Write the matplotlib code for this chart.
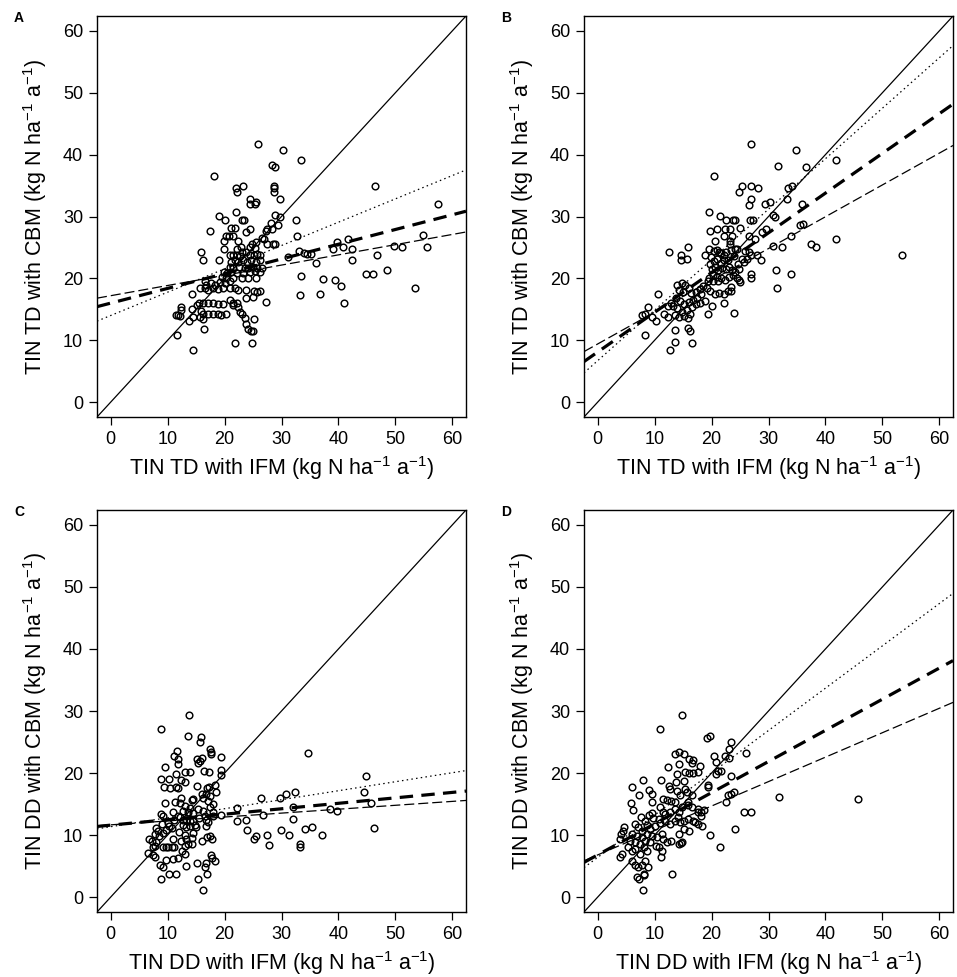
import matplotlib
matplotlib.use("Agg")
import matplotlib.pyplot as plt

plt.rcParams['font.family'] = ['Liberation Sans', 'DejaVu Sans']
plt.rcParams['mathtext.fontset'] = 'custom'
plt.rcParams['mathtext.rm'] = 'Liberation Sans'
plt.rcParams['mathtext.it'] = 'Liberation Sans:italic'

# ---------------- data ----------------
panel_letters = ["A", "B", "C", "D"]
x_labels = ["TIN TD with IFM", "TIN TD with IFM", "TIN DD with IFM", "TIN DD with IFM"]
y_labels = ["TIN TD with CBM", "TIN TD with CBM", "TIN DD with CBM", "TIN DD with CBM"]
ticks = [0, 10, 20, 30, 40, 50, 60]

# regression lines: (intercept, slope) for dotted, thick dashed, thin long-dashed
lines_a = [(14.0, 0.377), (16.0, 0.238), (17.2, 0.165)]
lines_b = [(6.7, 0.816), (8.1, 0.642), (9.4, 0.514)]
lines_c = [(11.35, 0.145), (11.6, 0.088), (11.65, 0.063)]
lines_d = [(6.4, 0.682), (6.8, 0.502), (6.8, 0.394)]

points_a = [
    (25.9, 41.7), (30.3, 40.8), (33.4, 39.1), (18.2, 36.5), (46.5, 34.9), (22.0, 34.6), (22.2, 33.9),
    (23.3, 34.9), (28.4, 38.3), (28.9, 38.0), (28.6, 35.0), (28.6, 34.6), (28.6, 33.9), (24.5, 32.8),
    (25.6, 32.3), (24.5, 32.0), (25.4, 32.0), (29.7, 32.8), (57.4, 32.1), (22.0, 30.7), (19.0, 30.1),
    (20.1, 29.5), (23.1, 29.5), (23.5, 29.5), (28.9, 30.2), (29.7, 30.0), (32.5, 29.5), (17.5, 27.7),
    (21.1, 28.2), (21.9, 28.2), (24.4, 28.0), (23.7, 27.5), (27.5, 28.0), (28.3, 28.0), (28.1, 29.0),
    (29.3, 28.7), (32.7, 26.9), (26.5, 26.5), (20.3, 26.9), (20.8, 26.9), (21.4, 26.9), (19.9, 26.1),
    (22.4, 26.0), (27.5, 25.6), (28.5, 25.6), (28.9, 25.5), (54.9, 27.0), (55.5, 25.0), (49.8, 25.3),
    (51.1, 25.0), (41.7, 26.3), (39.8, 25.9), (39.0, 24.8), (40.8, 25.1), (42.3, 24.8), (33.0, 24.4),
    (34.0, 24.1), (34.4, 23.9), (35.2, 23.9), (46.8, 23.7), (31.2, 23.5), (42.3, 22.9), (36.0, 22.5),
    (48.6, 21.4), (44.8, 20.7), (46.0, 20.7), (33.5, 20.4), (37.3, 19.9), (39.4, 19.7), (40.4, 18.8),
    (53.5, 18.4), (36.8, 17.5), (33.3, 17.3), (40.9, 16.1), (27.2, 16.2),
    (15.9, 24.2), (16.2, 23.0), (19.0, 23.0), (19.9, 24.7), (22.1, 24.8), (22.8, 25.1), (24.4, 25.1),
    (25.3, 24.9), (20.9, 23.7), (21.5, 23.7), (22.2, 23.7), (22.7, 23.6), (23.1, 24.3), (23.8, 24.2),
    (24.5, 23.8), (25.1, 23.7), (25.7, 24.0), (26.3, 23.7), (21.2, 22.7), (21.8, 22.9), (22.4, 22.7),
    (23.3, 22.9), (24.0, 22.7), (24.7, 22.9), (25.5, 22.7), (26.2, 23.0), (20.9, 21.9), (21.5, 21.6),
    (22.6, 21.9), (23.6, 21.6), (24.1, 21.7), (25.0, 21.8), (25.7, 21.6), (26.5, 21.7), (19.9, 21.1),
    (20.4, 20.9), (21.2, 21.1), (22.1, 20.8), (23.3, 20.9), (24.4, 21.1), (25.3, 21.2), (26.2, 21.1),
    (19.6, 20.2), (20.3, 20.0), (21.5, 20.1), (23.0, 20.0), (24.1, 20.1), (25.5, 20.0), (19.2, 19.4),
    (20.1, 19.3), (20.9, 19.5), (16.5, 19.5), (16.8, 19.0), (17.7, 19.2), (18.3, 18.9), (15.6, 18.4),
    (16.5, 18.4), (17.1, 18.1), (18.0, 18.4), (18.9, 18.3), (19.7, 18.5), (20.9, 18.4), (21.8, 18.5),
    (22.4, 18.1), (23.8, 18.2), (25.1, 17.9), (25.7, 17.8), (26.2, 17.9), (25.0, 17.0), (23.8, 16.8),
    (14.2, 17.4), (15.5, 16.1), (16.3, 16.1), (17.1, 16.0), (18.0, 16.0), (18.9, 15.8), (19.7, 15.8),
    (20.9, 16.5), (21.5, 16.1), (22.2, 16.0), (12.4, 15.4), (12.4, 14.9), (14.2, 15.1), (15.1, 15.7),
    (11.4, 14.1), (11.8, 14.1), (12.1, 14.0), (15.9, 14.7), (16.3, 14.2), (17.1, 14.3), (18.0, 14.2),
    (18.9, 14.3), (19.4, 14.1), (20.2, 14.3), (13.8, 13.1), (14.5, 13.8), (15.6, 13.8), (16.3, 13.5),
    (22.7, 14.6), (23.1, 14.3), (22.4, 15.3), (21.5, 15.7), (23.6, 13.6), (23.8, 12.7), (24.1, 11.8),
    (24.7, 11.5), (16.4, 11.9), (11.6, 10.8), (14.5, 8.4), (21.9, 9.6), (24.9, 9.6), (25.1, 13.4),
    (25.0, 11.5), (26.9, 26.4), (27.3, 27.6), (25.6, 25.9), (24.8, 25.6),
]

points_b = [
    (27.0, 41.7), (34.9, 40.8), (41.8, 39.1), (20.4, 36.5), (31.6, 38.2), (36.5, 38.0), (25.3, 34.9),
    (26.9, 34.9), (28.2, 34.6), (24.8, 33.9), (27.0, 32.9), (26.6, 31.9), (29.4, 32.0), (30.2, 32.3),
    (33.5, 34.6), (34.2, 35.0), (33.2, 32.8), (35.9, 32.1), (19.6, 30.7), (21.5, 30.1), (22.5, 29.5),
    (23.8, 29.4), (24.2, 29.4), (26.7, 29.5), (27.3, 29.5), (30.8, 30.2), (31.2, 29.9), (19.7, 27.7),
    (20.9, 28.0), (22.3, 28.0), (23.2, 28.0), (25.0, 28.1), (29.5, 28.0), (28.9, 27.5), (27.6, 26.4),
    (26.6, 26.9), (22.2, 26.9), (23.6, 26.9), (20.6, 26.1), (23.2, 26.0), (23.2, 25.6), (53.5, 23.7),
    (41.9, 26.3), (37.5, 25.6), (38.4, 25.0), (34.0, 26.9), (35.5, 28.7), (36.1, 28.8), (30.8, 25.3),
    (32.4, 25.0), (12.6, 24.2), (15.8, 25.1), (14.7, 23.8), (15.7, 23.2), (14.7, 23.0), (18.9, 23.8),
    (19.6, 24.8), (20.4, 24.5), (21.3, 24.3), (22.2, 23.7), (24.1, 24.8), (24.5, 24.7), (25.9, 24.5),
    (26.6, 24.3), (27.0, 23.7), (27.9, 23.8), (28.7, 22.9), (26.3, 23.2), (31.3, 21.4), (34.0, 20.7),
    (26.9, 20.7), (26.9, 20.0), (31.5, 18.4), (24.9, 19.8), (25.0, 19.4), (23.5, 17.9), (22.2, 16.1),
    (24.0, 14.4), (19.3, 14.2), (20.0, 15.6), (10.6, 17.4), (7.8, 14.1), (8.3, 14.3), (8.8, 15.4),
    (9.5, 13.8), (10.3, 13.1), (11.7, 14.3), (12.4, 13.8), (8.3, 10.8), (12.7, 8.4), (13.6, 9.7),
    (16.5, 9.6), (13.6, 11.7), (15.8, 12.0), (16.3, 11.5),
    (14.0, 19.0), (14.8, 19.3), (15.3, 19.0), (16.0, 18.5), (14.3, 18.2), (15.0, 17.8), (16.4, 17.6),
    (17.2, 17.8), (17.9, 18.3), (18.5, 18.8), (19.3, 19.5), (18.2, 17.5), (17.5, 16.9), (16.8, 16.5),
    (16.0, 16.2), (15.2, 15.8), (14.5, 16.3), (13.7, 16.8), (13.2, 15.5), (14.0, 15.2), (14.8, 14.6),
    (15.6, 14.9), (16.5, 15.3), (17.2, 15.8), (18.0, 16.1), (18.8, 16.3), (13.6, 14.1), (14.3, 13.8),
    (15.1, 13.9), (15.9, 13.6), (16.3, 14.3), (12.8, 16.0), (12.3, 15.6),
    (19.8, 22.3), (20.4, 22.8), (21.0, 23.1), (21.6, 22.5), (22.2, 22.9), (22.8, 23.0), (20.0, 21.5),
    (20.6, 21.8), (21.2, 21.3), (21.9, 21.7), (22.5, 21.5), (23.1, 21.9), (23.6, 21.3), (24.2, 21.0),
    (24.8, 21.5), (20.2, 20.6), (20.9, 20.3), (21.6, 20.1), (22.3, 19.8), (23.0, 20.2), (23.7, 20.6),
    (24.4, 20.0), (19.5, 20.0), (20.3, 19.5), (21.1, 19.6), (19.2, 18.5), (19.8, 18.0), (20.6, 17.5),
    (21.3, 17.6), (22.1, 17.4), (22.8, 18.0), (23.5, 18.6), (20.9, 24.6), (21.6, 24.1), (22.6, 24.3),
    (23.4, 24.6), (24.0, 23.6), (25.3, 23.2), (25.7, 22.6), (24.7, 22.3), (19.9, 23.4),
]

points_c = [
    (8.8, 27.1), (13.8, 29.4), (13.5, 26.0), (15.9, 25.8), (15.6, 25.0), (17.5, 23.9), (17.6, 23.4),
    (17.6, 23.0), (19.4, 22.6), (34.7, 23.2), (11.7, 23.5), (11.1, 22.8), (11.8, 22.2), (11.9, 21.5),
    (15.1, 22.3), (15.6, 22.0), (16.0, 22.5), (15.4, 21.6), (9.5, 20.9), (13.9, 20.2), (13.0, 20.1),
    (16.4, 20.3), (17.2, 20.1), (19.3, 20.5), (19.4, 19.7), (8.8, 19.0), (10.2, 19.0), (11.5, 19.8),
    (12.4, 18.8), (13.1, 18.6), (9.4, 17.8), (10.4, 17.6), (11.5, 17.8), (11.8, 17.6), (15.1, 17.9),
    (18.3, 18.1), (16.9, 17.6), (17.3, 17.8), (9.6, 15.1), (11.3, 15.3), (12.1, 15.1), (12.4, 15.9),
    (14.2, 15.6), (14.5, 15.8), (16.0, 16.6), (16.3, 16.0), (16.8, 16.7), (17.1, 15.5), (18.0, 15.0),
    (17.4, 14.5), (15.3, 14.2), (16.3, 13.9), (12.7, 13.9), (13.6, 13.7), (14.5, 13.5), (11.0, 13.7),
    (11.8, 13.1), (8.8, 13.4), (9.2, 13.1), (12.7, 12.4), (13.3, 12.4), (13.9, 12.3), (14.5, 12.2),
    (12.1, 12.9), (11.2, 12.5), (10.3, 11.4), (10.7, 11.1), (12.7, 11.7), (13.3, 11.3), (14.0, 11.4),
    (14.8, 11.6), (16.8, 11.4), (7.9, 11.2), (8.3, 10.7), (9.2, 10.4), (9.8, 10.8), (7.7, 10.2),
    (8.5, 9.8), (6.7, 9.4), (7.3, 9.1), (11.0, 9.4), (10.7, 8.1), (10.1, 8.0), (11.2, 8.1),
    (12.4, 9.1), (13.3, 9.4), (14.2, 9.6), (13.0, 8.3), (13.5, 8.5), (14.2, 8.6), (16.1, 9.1),
    (16.9, 9.7), (17.8, 9.4), (17.5, 9.8), (8.0, 8.9), (7.7, 8.3), (7.4, 8.1), (6.6, 7.1), (7.4, 6.8),
    (7.7, 6.4), (9.2, 8.1), (9.7, 8.1), (12.6, 7.4), (13.0, 7.0), (11.0, 6.2), (11.9, 6.3), (9.8, 6.0),
    (17.6, 6.8), (17.8, 6.3), (18.3, 5.9), (8.7, 5.1), (9.2, 4.9), (13.3, 5.0), (15.1, 5.5),
    (16.8, 5.5), (16.5, 4.9), (10.3, 3.7), (11.5, 3.8), (17.0, 3.7), (8.8, 2.9), (15.3, 2.9),
    (16.3, 1.1), (14.9, 11.3), (16.8, 12.4), (17.1, 12.1), (18.0, 13.0), (18.0, 13.8), (19.4, 13.3),
    (12.0, 10.5), (13.0, 10.0), (14.5, 10.3), (15.5, 12.8), (16.5, 13.0), (17.5, 16.3), (18.5, 17.0),
    (10.0, 12.0), (9.0, 11.8), (13.0, 14.7), (14.0, 14.3),
    (22.1, 14.4), (22.1, 12.2), (23.7, 12.5), (23.9, 10.8), (25.5, 9.8), (25.1, 9.3), (26.4, 15.9),
    (26.8, 13.2), (27.4, 10.0), (27.8, 8.4), (29.8, 16.0), (30.8, 16.6), (29.9, 10.8), (31.3, 10.0),
    (32.0, 14.6), (32.0, 12.6), (32.3, 16.9), (33.2, 8.5), (33.3, 8.0), (34.2, 11.0), (35.4, 11.3),
    (37.1, 10.0), (38.5, 14.2), (39.8, 13.9), (44.5, 16.9), (44.9, 19.6), (45.7, 15.2), (46.3, 11.1),
]

points_d = [
    (14.8, 29.4), (10.9, 27.1), (19.2, 25.7), (19.7, 26.0), (23.4, 25.0), (26.0, 23.3), (23.1, 23.9),
    (22.4, 22.8), (23.1, 22.4), (20.5, 22.7), (20.7, 21.7), (13.5, 23.0), (14.3, 23.4), (15.1, 23.1),
    (14.2, 21.5), (12.3, 20.9), (16.1, 22.3), (16.5, 21.6), (16.8, 22.1), (18.0, 21.2), (13.9, 19.9),
    (15.3, 20.1), (16.1, 20.0), (16.8, 20.0), (17.7, 20.1), (21.2, 20.3), (21.6, 20.3), (20.7, 19.8),
    (23.5, 19.6), (7.9, 18.9), (11.1, 18.9), (15.2, 18.7), (13.8, 18.5), (19.3, 18.1), (19.3, 17.7),
    (12.6, 17.9), (12.7, 17.4), (6.1, 17.7), (9.0, 17.3), (9.5, 16.6), (7.2, 16.5), (14.0, 17.1),
    (14.5, 16.4), (15.4, 17.4), (15.6, 16.9), (16.5, 16.5), (23.5, 16.7), (23.9, 16.9), (22.8, 16.4),
    (22.5, 15.3), (5.8, 15.1), (9.5, 15.3), (11.4, 15.8), (12.2, 15.7), (12.9, 15.5), (13.6, 15.3),
    (15.9, 15.3), (15.8, 14.8), (16.6, 14.5), (17.6, 14.2), (18.2, 13.8), (18.6, 14.1), (6.2, 14.0),
    (9.5, 13.5), (11.0, 14.5), (11.4, 13.8), (11.9, 13.4), (12.7, 13.7), (13.6, 14.2), (14.2, 13.8),
    (14.8, 14.5), (14.1, 12.9), (25.7, 13.8), (27.0, 13.7), (18.2, 13.1), (17.6, 13.7), (7.6, 12.9),
    (8.3, 12.3), (9.0, 13.2), (9.8, 12.8), (10.7, 12.6), (6.6, 11.8), (7.1, 11.3), (7.8, 10.7),
    (8.6, 11.7), (9.2, 11.0), (10.1, 11.4), (11.0, 11.9), (11.9, 12.3), (12.7, 11.8), (13.6, 12.3),
    (14.4, 12.1), (15.2, 12.3), (15.9, 12.6), (16.8, 12.3), (17.7, 11.8), (18.4, 11.5), (17.1, 12.1),
    (4.6, 11.3), (4.4, 10.7), (4.1, 10.1), (4.0, 9.4), (6.0, 10.2), (6.9, 9.9), (7.8, 9.7), (8.6, 10.2),
    (9.5, 9.9), (10.4, 9.7), (11.3, 10.2), (5.7, 9.1), (6.6, 8.9), (7.5, 8.6), (8.3, 9.1), (9.2, 8.9),
    (10.2, 8.3), (11.4, 9.4), (12.1, 8.9), (12.9, 9.1), (14.2, 10.2), (14.7, 8.7), (15.2, 11.0),
    (16.1, 10.7), (14.2, 8.6), (14.8, 8.9), (19.8, 10.0), (24.2, 11.0), (21.4, 8.1), (4.3, 7.0),
    (4.0, 6.4), (5.4, 8.1), (6.1, 7.5), (6.6, 7.8), (7.5, 7.0), (8.1, 8.1), (8.6, 7.5), (10.7, 8.1),
    (11.3, 7.5), (11.2, 6.4), (6.0, 5.9), (6.5, 5.1), (7.1, 4.8), (7.8, 5.1), (8.3, 5.9), (8.8, 4.8),
    (6.9, 3.2), (7.2, 3.0), (8.1, 3.8), (8.2, 3.6), (13.0, 3.8), (7.9, 1.1), (31.9, 16.2), (45.7, 15.8),
]

panels = [
    (points_a, lines_a),
    (points_b, lines_b),
    (points_c, lines_c),
    (points_d, lines_d),
]

# ---------------- layout ----------------
W, H = 957, 977
fig = plt.figure(figsize=(W / 100, H / 100), dpi=100)

boxes = [  # left, top, right, bottom in pixels
    (97, 16, 466, 417),
    (584, 16, 953, 417),
    (97, 510, 466, 912),
    (584, 510, 953, 912),
]

line_styles = [
    dict(lw=0.9, linestyle=(0, (1.2, 2.6))),
    dict(lw=2.3, linestyle=(0, (4.2, 2.6))),
    dict(lw=0.9, linestyle=(0, (8.0, 3.2))),
]

unit = r" (kg N ha$^{-1}$ a$^{-1}$)"

for i, ((pts, lns), (l, t, r, b)) in enumerate(zip(panels, boxes)):
    ax = fig.add_axes([l / W, 1 - b / H, (r - l) / W, (b - t) / H])
    ax.set_xlim(-2.4, 62.4)
    ax.set_ylim(-2.4, 62.4)
    ax.set_xticks(ticks)
    ax.set_yticks(ticks)
    ax.tick_params(direction='out', length=6, width=0.9, labelsize=13, pad=4)
    for sp in ax.spines.values():
        sp.set_linewidth(1.0)
    # 1:1 line
    ax.axline((0, 0), slope=1, color='black', lw=0.9)
    for (a, s), st in zip(lns, line_styles):
        ax.axline((0, a), slope=s, color='black', **st)
    xs = [p[0] for p in pts]
    ys = [p[1] for p in pts]
    ax.plot(xs, ys, linestyle='none', marker='o', markersize=4.8,
            markerfacecolor='none', markeredgecolor='black', markeredgewidth=1.05)
    ax.set_xlabel(x_labels[i] + unit, fontsize=15.5, labelpad=4.5)
    ax.set_ylabel(y_labels[i] + unit, fontsize=15.5, labelpad=10)
    fig.text((l - 83) / W, 1 - (t + 2) / H, panel_letters[i], fontsize=10,
             fontweight='bold', ha='left', va='center')

fig.savefig("out.png", dpi=100)
